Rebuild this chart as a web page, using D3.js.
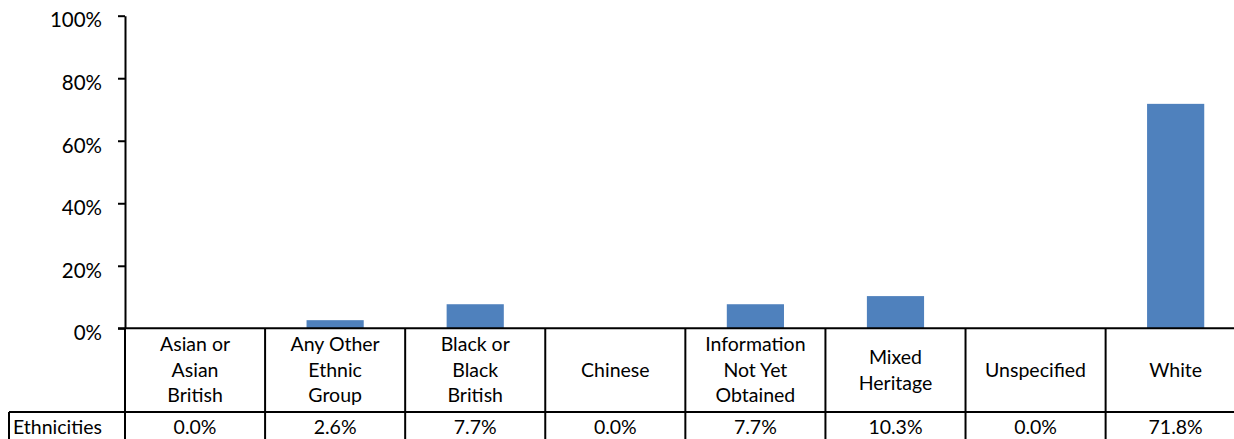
<!DOCTYPE html>
<html>
<head>
<meta charset="utf-8">
<script src="https://cdn.jsdelivr.net/npm/d3@7"></script>
<style>
  html, body { margin: 0; padding: 0; background: #fff; }
  svg { display: block; font-family: Lato, "Liberation Sans", sans-serif; }
  text { fill: #000; }
</style>
</head>
<body>
<svg id="chart" width="1234" height="439"></svg>
<script>
// Share of each ethnicity (percent)
const categories = [
  "Asian or Asian British",
  "Any Other Ethnic Group",
  "Black or Black British",
  "Chinese",
  "Information Not Yet Obtained",
  "Mixed Heritage",
  "Unspecified",
  "White"
];
const values = [0.0, 2.6, 7.7, 0.0, 7.7, 10.3, 0.0, 71.8];
const seriesName = "Ethnicities";
const yTicks = [0, 20, 40, 60, 80, 100];

const W = 1234, H = 439;
const plotLeft = 125, plotRight = 1245.7;
const yTop = 15.7, yZero = 328.3;
const rowLine = 412;
const tableLeft = 9;
const fontSize = 19.5;
const axisFontSize = 20.5;
const lineH = 25.5;
const barColor = "#4F81BD";

const svg = d3.select("#chart");

const x = d3.scaleBand().domain(categories).range([plotLeft, plotRight]).paddingInner(0).paddingOuter(0);
const y = d3.scaleLinear().domain([0, 100]).range([yZero, yTop]);
const barW = x.bandwidth() / 2.45;

// bars
svg.append("g")
  .selectAll("rect")
  .data(categories.map((c, i) => ({ c, v: values[i] })))
  .join("rect")
  .attr("x", d => x(d.c) + (x.bandwidth() - barW) / 2)
  .attr("width", barW)
  .attr("y", d => y(d.v))
  .attr("height", d => y(0) - y(d.v))
  .attr("fill", barColor);

// value axis
const yAxis = svg.append("g")
  .attr("transform", `translate(${plotLeft},0)`)
  .call(d3.axisLeft(y).tickValues(yTicks).tickSize(7).tickSizeOuter(0).tickPadding(16).tickFormat(d => d + "%"));
yAxis.selectAll("path, line").attr("stroke", "#000").attr("stroke-width", 2);
yAxis.selectAll("text")
  .style("font-family", "Lato, 'Liberation Sans', sans-serif")
  .style("font-size", axisFontSize + "px")
  .attr("fill", "#000")
  .attr("dy", "0.55em");

// data table grid
const grid = svg.append("g").attr("stroke", "#000").attr("stroke-width", 2).attr("fill", "none");
grid.append("line").attr("x1", plotLeft - 7).attr("x2", W).attr("y1", yZero).attr("y2", yZero);
grid.append("line").attr("x1", tableLeft).attr("x2", W).attr("y1", rowLine).attr("y2", rowLine);
grid.append("line").attr("x1", tableLeft).attr("x2", tableLeft).attr("y1", rowLine).attr("y2", H);
const edges = categories.map(c => x(c)).concat([x(categories[categories.length - 1]) + x.bandwidth()]);
grid.selectAll("line.edge")
  .data(edges)
  .join("line")
  .attr("class", "edge")
  .attr("x1", d => d).attr("x2", d => d)
  .attr("y1", yZero).attr("y2", H);

// category labels, wrapped to the cell
const ctx = document.createElement("canvas").getContext("2d");
ctx.font = `${fontSize}px Lato`;
function wrap(label, maxW) {
  const words = label.split(" ");
  const lines = [];
  let cur = "";
  words.forEach(w => {
    const t = cur ? cur + " " + w : w;
    if (cur && ctx.measureText(t).width > maxW) { lines.push(cur); cur = w; }
    else cur = t;
  });
  if (cur) lines.push(cur);
  return lines;
}
const catMid = (yZero + rowLine) / 2;
const labels = svg.append("g").attr("font-size", fontSize).attr("text-anchor", "middle");
categories.forEach(c => {
  const lines = wrap(c, 106);
  const cx = x(c) + x.bandwidth() / 2;
  const start = catMid - (lines.length - 1) * lineH / 2;
  const t = labels.append("text").attr("x", cx);
  lines.forEach((ln, k) => {
    t.append("tspan").attr("x", cx).attr("y", start + k * lineH).attr("dy", "0.35em").text(ln);
  });
});

// value row
const rowMid = 427;
const row = svg.append("g").attr("font-size", fontSize);
row.append("text").attr("x", tableLeft + 4).attr("y", rowMid).attr("dy", "0.35em").text(seriesName);
row.selectAll("text.val")
  .data(categories.map((c, i) => ({ c, v: values[i] })))
  .join("text")
  .attr("class", "val")
  .attr("text-anchor", "middle")
  .attr("x", d => x(d.c) + x.bandwidth() / 2)
  .attr("y", rowMid)
  .attr("dy", "0.35em")
  .text(d => d.v.toFixed(1) + "%");
</script>
</body>
</html>
